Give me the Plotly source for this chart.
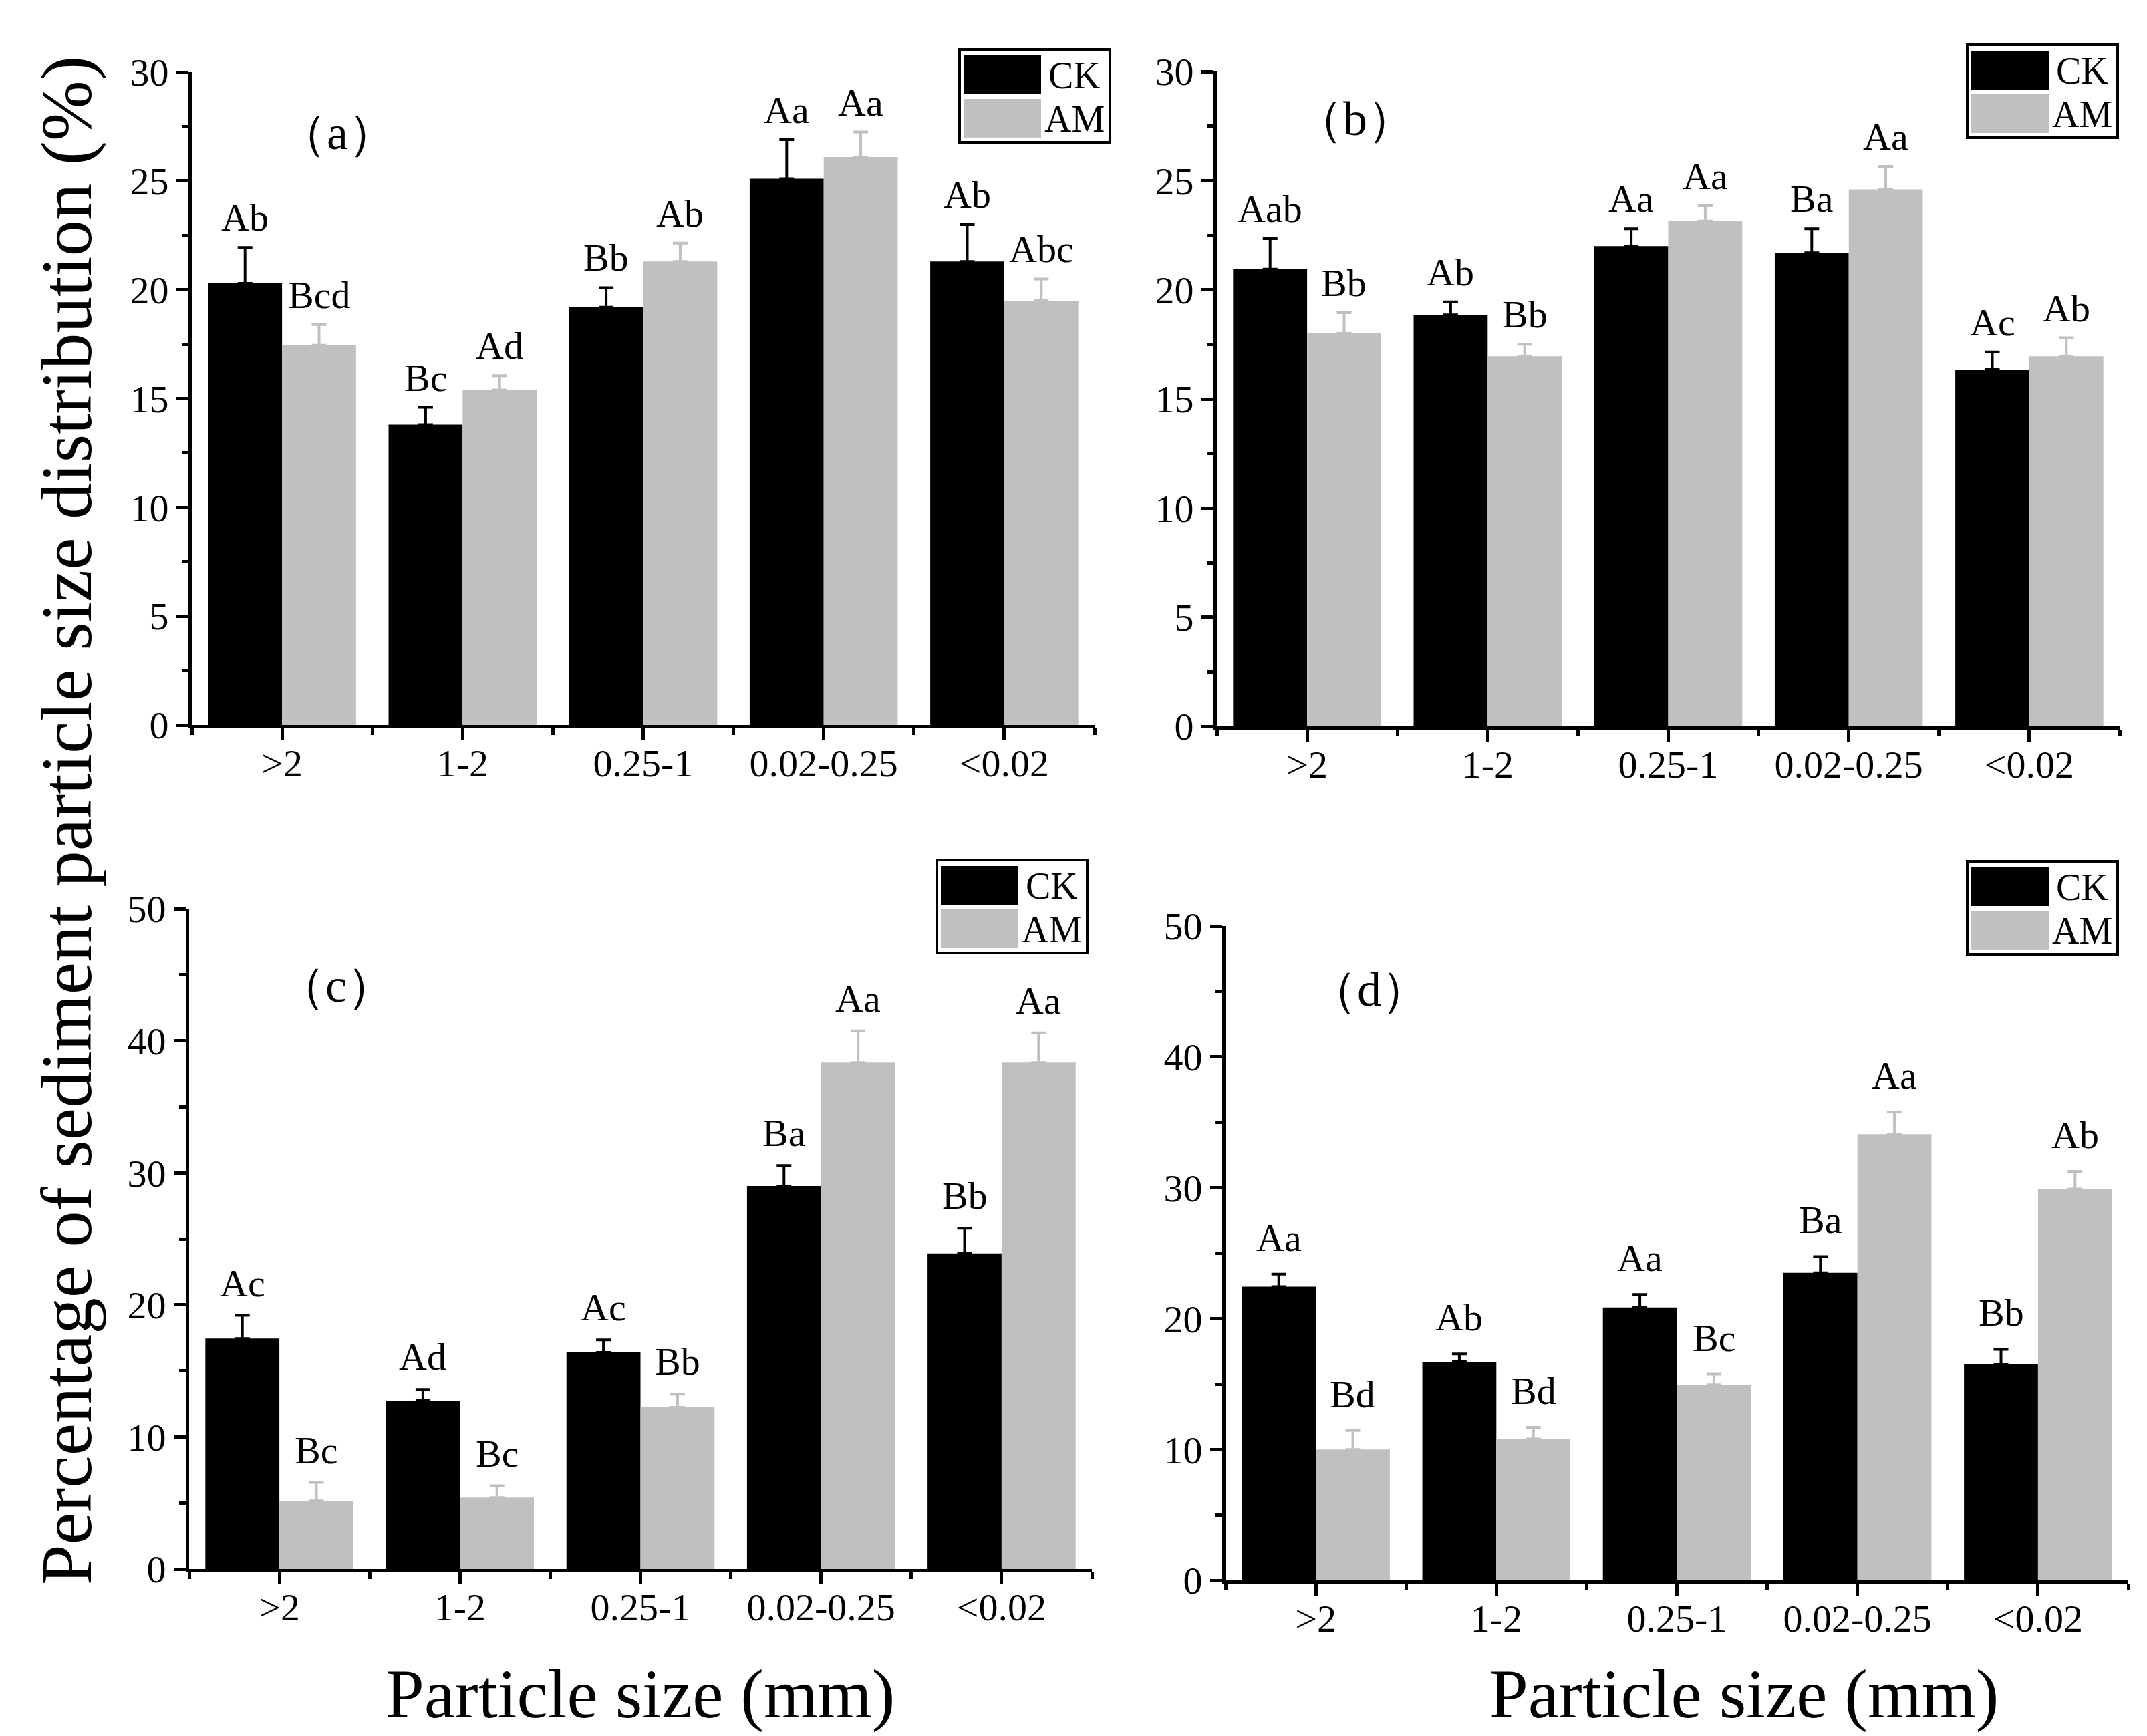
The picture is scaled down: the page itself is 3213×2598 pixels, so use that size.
import plotly.graph_objects as go

# ---------------- data ----------------
categories = [">2", "1-2", "0.25-1", "0.02-0.25", "<0.02"]
series_names = ["CK", "AM"]

a_ck = [20.3, 13.8, 19.2, 25.1, 21.3]
a_ck_err = [1.65, 0.8, 0.9, 1.8, 1.7]
a_am = [17.45, 15.4, 21.3, 26.1, 19.5]
a_am_err = [0.95, 0.65, 0.85, 1.15, 1.0]
a_ck_labels = ["Ab", "Bc", "Bb", "Aa", "Ab"]
a_am_labels = ["Bcd", "Ad", "Ab", "Aa", "Abc"]

b_ck = [20.95, 18.85, 22.0, 21.7, 16.35]
b_ck_err = [1.4, 0.6, 0.8, 1.1, 0.8]
b_am = [18.0, 16.95, 23.15, 24.6, 16.95]
b_am_err = [0.95, 0.55, 0.7, 1.05, 0.85]
b_ck_labels = ["Aab", "Ab", "Aa", "Ba", "Ac"]
b_am_labels = ["Bb", "Bb", "Aa", "Aa", "Ab"]

c_ck = [17.45, 12.75, 16.4, 29.0, 23.9]
c_ck_err = [1.75, 0.85, 0.95, 1.55, 1.9]
c_am = [5.15, 5.4, 12.25, 38.35, 38.35]
c_am_err = [1.4, 0.9, 1.0, 2.4, 2.25]
c_ck_labels = ["Ac", "Ad", "Ac", "Ba", "Bb"]
c_am_labels = ["Bc", "Bc", "Bb", "Aa", "Aa"]

d_ck = [22.45, 16.7, 20.85, 23.5, 16.5]
d_ck_err = [0.95, 0.6, 1.0, 1.25, 1.15]
d_am = [10.0, 10.8, 14.95, 34.1, 29.9]
d_am_err = [1.45, 0.9, 0.8, 1.7, 1.35]
d_ck_labels = ["Aa", "Ab", "Aa", "Ba", "Bb"]
d_am_labels = ["Bd", "Bd", "Bc", "Aa", "Ab"]

panel_labels = ["（a）", "（b）", "（c）", "（d）"]
y_title = "Percentage of sediment particle size distribution (%)"
x_title = "Particle size (mm)"

# ---------------- style / layout ----------------
W, H = 3213, 2598
FONT = "Liberation Serif, Times New Roman, serif"
CK_COLOR = "#000000"
AM_COLOR = "#c0c0c0"
BARGAP = 0.18


def fx(p):
    return p / W


def fy(p):
    return 1 - p / H


panels = [
    dict(ck=a_ck, cke=a_ck_err, am=a_am, ame=a_am_err, ckl=a_ck_labels, aml=a_am_labels,
         box=(287, 1638, 108, 1085), ymax=30, dtick=5, leg=(1436, 74), lab=(505, 199), ls=10),
    dict(ck=b_ck, cke=b_ck_err, am=b_am, ame=b_am_err, ckl=b_ck_labels, aml=b_am_labels,
         box=(1821, 3172, 107, 1087), ymax=30, dtick=5, leg=(2944, 67), lab=(2028, 178), ls=10),
    dict(ck=c_ck, cke=c_ck_err, am=c_am, ame=c_am_err, ckl=c_ck_labels, aml=c_am_labels,
         box=(283, 1634, 1360, 2348), ymax=50, dtick=10, leg=(1402, 1287), lab=(503, 1475), ls=14),
    dict(ck=d_ck, cke=d_ck_err, am=d_am, ame=d_am_err, ckl=d_ck_labels, aml=d_am_labels,
         box=(1834, 3185, 1386, 2365), ymax=50, dtick=10, leg=(2944, 1289), lab=(2049, 1481), ls=20),
]

fig = go.Figure()
annotations = []
shapes = []
xpos = list(range(len(categories)))
half = (1 - BARGAP) / 4  # offset of each bar centre from category centre

for k, p in enumerate(panels):
    sfx = "" if k == 0 else str(k + 1)
    xa, ya = "x" + sfx, "y" + sfx
    for vals, errs, color, name in [(p["ck"], p["cke"], CK_COLOR, series_names[0]),
                                    (p["am"], p["ame"], AM_COLOR, series_names[1])]:
        fig.add_trace(go.Bar(
            x=xpos, y=vals, name=name, xaxis=xa, yaxis=ya, showlegend=False,
            marker=dict(color=color, line=dict(width=0)),
            offsetgroup=name,
            error_y=dict(type="data", array=errs, symmetric=False,
                         arrayminus=[0] * len(errs),
                         color=color, thickness=4, width=11),
        ))
    # significance letters
    for i in xpos:
        for vals, errs, labs, sgn in [(p["ck"], p["cke"], p["ckl"], -1),
                                      (p["am"], p["ame"], p["aml"], 1)]:
            annotations.append(dict(
                x=i + sgn * half, y=vals[i] + errs[i], xref=xa, yref=ya,
                text=labs[i], showarrow=False, xanchor="center", yanchor="bottom",
                yshift=p["ls"], font=dict(family=FONT, size=58, color="black")))
    x0, x1, yt, yb = p["box"]
    axis_common = dict(showline=True, linewidth=5, linecolor="black", mirror=False,
                       ticks="outside", ticklen=18, tickwidth=5, tickcolor="black",
                       showgrid=False, zeroline=False, automargin=False,
                       tickfont=dict(family=FONT, size=58, color="black"))
    fig.layout["xaxis" + sfx] = dict(
        domain=[fx(x0), fx(x1)], anchor=ya, range=[-0.5, len(categories) - 0.5],
        tickmode="array", tickvals=xpos, ticktext=categories,
        minor=dict(tickmode="array", tickvals=[i - 0.5 for i in range(len(categories) + 1)],
                   ticks="outside", ticklen=10, tickwidth=5, tickcolor="black"),
        ticklabelstandoff=-16,
        **axis_common)
    fig.layout["yaxis" + sfx] = dict(
        domain=[fy(yb), fy(yt)], anchor=xa, range=[0, p["ymax"]],
        tickmode="linear", tick0=0, dtick=p["dtick"],
        minor=dict(tickmode="linear", tick0=0, dtick=p["dtick"] / 2,
                   ticks="outside", ticklen=10, tickwidth=5, tickcolor="black"),
        ticklabelstandoff=0,
        **axis_common)
    # panel label
    lx, ly = p["lab"]
    annotations.append(dict(x=fx(lx), y=fy(ly), xref="paper", yref="paper",
                            text=panel_labels[k], showarrow=False,
                            xanchor="center", yanchor="middle",
                            font=dict(family=FONT, size=72, color="black")))
    # legend box (drawn)
    gx, gy = p["leg"]
    shapes.append(dict(type="rect", xref="paper", yref="paper",
                       x0=fx(gx), x1=fx(gx + 225), y0=fy(gy), y1=fy(gy + 139),
                       line=dict(color="black", width=4), fillcolor="white", layer="above"))
    for j, (col, nm) in enumerate([(CK_COLOR, series_names[0]), (AM_COLOR, series_names[1])]):
        sy0 = gy + 9 + j * 65
        shapes.append(dict(type="rect", xref="paper", yref="paper",
                           x0=fx(gx + 6), x1=fx(gx + 122), y0=fy(sy0), y1=fy(sy0 + 58),
                           line=dict(width=0), fillcolor=col, layer="above"))
        annotations.append(dict(x=fx(gx + 172), y=fy(sy0 + 30), xref="paper", yref="paper",
                                text=nm, showarrow=False, xanchor="center", yanchor="middle",
                                font=dict(family=FONT, size=56, color="black")))

# axis titles
annotations.append(dict(x=fx(100), y=fy(1228), xref="paper", yref="paper", text=y_title,
                        textangle=-90, showarrow=False, xanchor="center", yanchor="middle",
                        font=dict(family=FONT, size=109, color="black")))
for cx in (958, 2610):
    annotations.append(dict(x=fx(cx), y=fy(2535), xref="paper", yref="paper", text=x_title,
                            showarrow=False, xanchor="center", yanchor="middle",
                            font=dict(family=FONT, size=104, color="black")))

fig.update_layout(
    template="none",
    width=W, height=H, margin=dict(l=0, r=0, t=0, b=0, pad=0, autoexpand=False),
    paper_bgcolor="white", plot_bgcolor="white",
    barmode="group", bargap=BARGAP, bargroupgap=0,
    annotations=annotations, shapes=shapes, showlegend=False,
    font=dict(family=FONT, color="black"),
)

fig.write_html("out.html", config={"displayModeBar": False},
               post_script="document.body.style.margin='0px';")
